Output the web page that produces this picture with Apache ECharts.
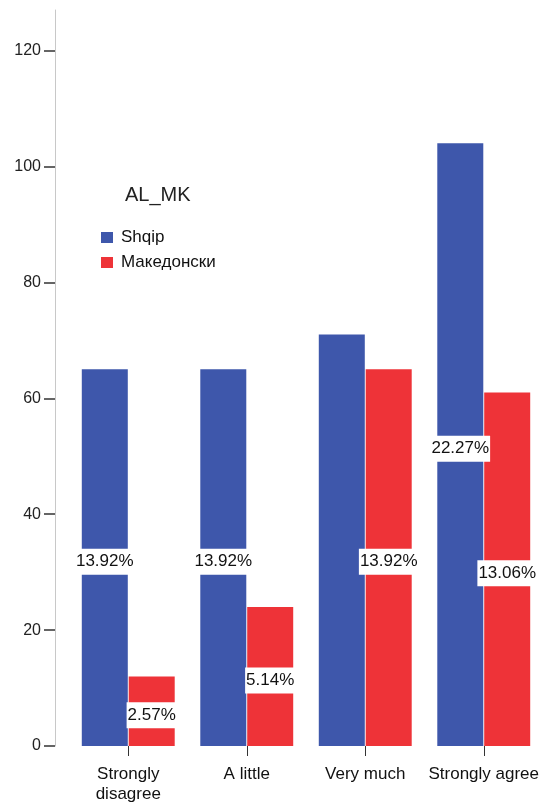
<!DOCTYPE html>
<html>
<head>
<meta charset="utf-8">
<script src="https://cdn.jsdelivr.net/npm/echarts@6/dist/echarts.min.js"></script>
<style>
  html, body { margin: 0; padding: 0; background: #fff; }
  #chart { width: 542px; height: 804px; }
</style>
</head>
<body>
<div id="chart"></div>
<script>
// Response categories on the x axis
const categories = ['Strongly\ndisagree', 'A little', 'Very much', 'Strongly agree'];
// Counts per language group
const shqip = [65, 65, 71, 104];
const makedonski = [12, 24, 65, 61];
// Share of all responses shown on the bars (null = no label)
const shqipPct = ['13.92%', '13.92%', null, '22.27%'];
const makedonskiPct = ['2.57%', '5.14%', '13.92%', '13.06%'];
// Y axis tick values
const yTicks = [0, 20, 40, 60, 80, 100, 120];

const FONT = 'Liberation Sans, Arial, sans-serif';

function withLabels(values, pcts) {
  return values.map((v, i) => ({
    value: v,
    label: pcts[i] ? { show: true, formatter: pcts[i] } : { show: false }
  }));
}

const barLabel = {
  position: 'inside',
  offset: [0, 4],
  color: '#111',
  fontFamily: FONT,
  fontSize: 17,
  lineHeight: 17,
  backgroundColor: '#fff',
  padding: [5, 1, 4, 1]
};

const chart = echarts.init(document.getElementById('chart'), null, { renderer: 'canvas' });
chart.setOption({
  animation: false,
  backgroundColor: '#fff',
  title: {
    text: 'AL_MK',
    left: 120,
    top: 180,
    textStyle: { fontFamily: FONT, fontSize: 20, fontWeight: 'normal', color: '#222' }
  },
  legend: {
    orient: 'vertical',
    left: 96,
    top: 224,
    itemWidth: 12,
    itemHeight: 11,
    itemGap: 8,
    icon: 'rect',
    textStyle: { fontFamily: FONT, fontSize: 17, lineHeight: 17, color: '#111', padding: [0, 0, 0, 3] },
    data: ['Shqip', 'Македонски']
  },
  grid: { left: 69, right: -1, top: 10, bottom: 58, containLabel: false, outerBoundsMode: 'none' },
  xAxis: {
    type: 'category',
    data: categories,
    axisLine: { show: false },
    axisTick: { show: true, alignWithLabel: true, length: 10, lineStyle: { color: '#333', width: 1 } },
    axisLabel: { interval: 0, fontFamily: FONT, fontSize: 17, color: '#111', margin: 18, lineHeight: 20 }
  },
  yAxis: {
    type: 'value',
    min: 0,
    max: 127,
    interval: 20,
    offset: 14,
    splitLine: { show: false },
    axisLine: { show: true, lineStyle: { color: '#c8c8c8', width: 1 } },
    axisTick: { show: true, length: 11, customValues: yTicks, lineStyle: { color: '#333', width: 1.5 } },
    axisLabel: { fontFamily: FONT, fontSize: 16, color: '#222', margin: 14, customValues: yTicks }
  },
  series: [
    {
      name: 'Shqip',
      type: 'bar',
      barWidth: 46,
      barGap: '2%',
      itemStyle: { color: '#3e57ab' },
      label: barLabel,
      data: withLabels(shqip, shqipPct)
    },
    {
      name: 'Македонски',
      type: 'bar',
      barWidth: 46,
      barGap: '2%',
      itemStyle: { color: '#ee3338' },
      label: barLabel,
      data: withLabels(makedonski, makedonskiPct)
    }
  ]
});
</script>
</body>
</html>
